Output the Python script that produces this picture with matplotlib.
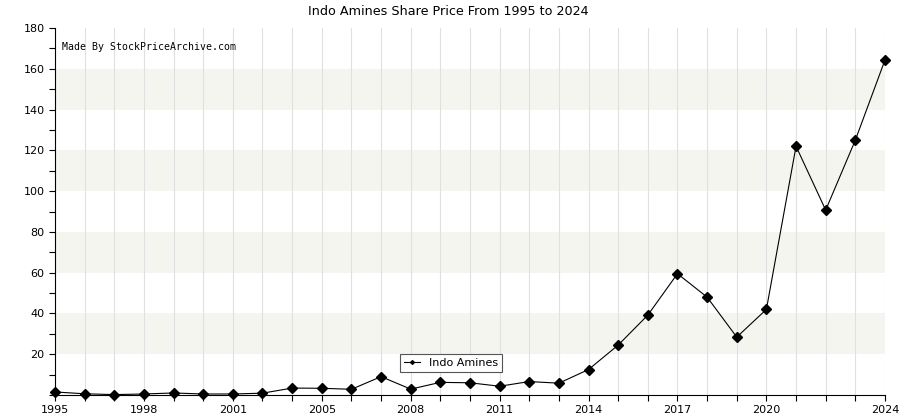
import matplotlib
matplotlib.use('Agg')
import numpy as np
import matplotlib.pyplot as plt
from matplotlib.ticker import MultipleLocator

# share price, one point per step from 1995 to 2024
prices = [1.5, 0.6, 0.2, 0.5, 1.0, 0.5, 0.5, 0.9, 3.4, 3.3, 2.8, 9.0, 2.9, 6.2,
          6.0, 4.3, 6.6, 5.8, 12.5, 24.5, 39.2, 59.5, 48.0, 28.4, 42.0, 122.0,
          90.7, 125.0, 164.3]
tick_pos = [0, 3, 6, 9, 12, 15, 18, 21, 24, 28]
tick_labels = ['1995', '1998', '2001', '2005', '2008', '2011', '2014', '2017', '2020', '2024']
y_labels = [20, 40, 60, 80, 100, 120, 140, 160, 180]

fig = plt.figure(figsize=(9, 4.2), dpi=100)
ax = fig.add_axes([0.0611, 0.0595, 0.9222, 0.8738])

x = np.arange(len(prices))
ax.set_xlim(0, len(prices) - 1)
ax.set_ylim(0, 180)

# alternating bands
for lo in range(20, 180, 40):
    ax.axhspan(lo, lo + 20, color='#f5f5f0', zorder=0, lw=0)
for xi in x:
    ax.axvline(xi, color='#e0e0e0', lw=0.8, zorder=1)

ax.plot(x, prices, '-', color='black', lw=0.8, marker='D', markersize=5.5,
        label='Indo Amines', zorder=3, clip_on=False)

ax.set_xticks(x, minor=True)
ax.set_xticks(tick_pos)
ax.set_xticklabels(tick_labels, fontsize=8)
ax.set_yticks(y_labels)
ax.set_yticklabels([str(v) for v in y_labels], fontsize=8)
ax.yaxis.set_minor_locator(MultipleLocator(10))
ax.tick_params(which='both', direction='out', length=4, width=0.8)
ax.tick_params(axis='x', which='minor', length=4)

for s in ['top', 'right']:
    ax.spines[s].set_visible(False)

fig.text(0.498, 0.972, 'Indo Amines Share Price From 1995 to 2024', fontsize=9.2,
         ha='center', va='center')
ax.text(0.009, 0.963, 'Made By StockPriceArchive.com', transform=ax.transAxes,
        fontsize=7.1, family='DejaVu Sans Mono', va='top')

leg = ax.legend(loc='lower center', bbox_to_anchor=(0.477, 0.047), fontsize=8,
                markerscale=0.35, handlelength=1.5, fancybox=False,
                framealpha=1, borderpad=0.35)
leg.get_frame().set_edgecolor('#555555')
leg.get_frame().set_linewidth(0.8)

plt.savefig('out.png', dpi=100)
